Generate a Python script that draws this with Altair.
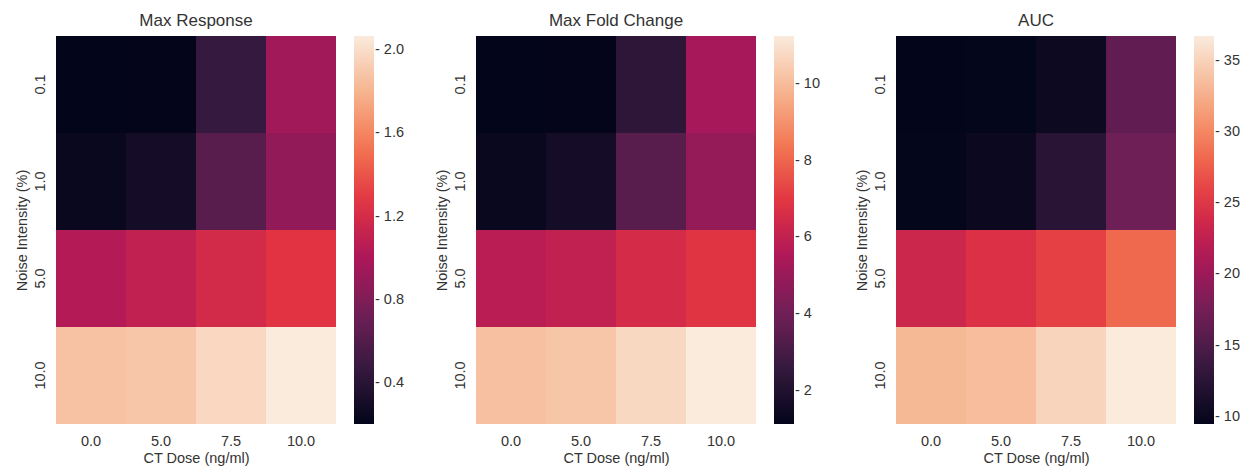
import altair as alt
import pandas as pd

# ---- data ----
doses = ["0.0", "5.0", "7.5", "10.0"]
noise = ["0.1", "1.0", "5.0", "10.0"]

max_response = [
    [0.204, 0.21, 0.47, 0.95],
    [0.24, 0.30, 0.63, 0.89],
    [1.04, 1.10, 1.19, 1.27],
    [1.87, 1.89, 1.97, 2.067],
]
max_fold = [
    [1.13, 1.15, 2.35, 5.3],
    [1.33, 1.65, 3.46, 4.9],
    [5.8, 6.0, 6.55, 6.95],
    [10.15, 10.25, 10.75, 11.26],
]
auc = [
    [9.49, 9.6, 10.2, 16.3],
    [9.6, 10.1, 12.5, 17.1],
    [23.4, 24.6, 25.9, 28.2],
    [33.2, 33.5, 35.1, 36.75],
]

ticks_mr = [0.4, 0.8, 1.2, 1.6, 2.0]
ticks_fc = [2, 4, 6, 8, 10]
ticks_auc = [10, 15, 20, 25, 30, 35]

# seaborn "rocket" colormap stops
ROCKET = ["#03051a", "#35193e", "#701f57", "#ad1759", "#e13342",
          "#f37651", "#f6b48f", "#faebdd"]

TEXT = "#333333"
FONT = "Liberation Sans"


def panel(title, field, values, ticks, fmt):
    rows = []
    for i, n in enumerate(noise):
        for j, d in enumerate(doses):
            rows.append({"noise": n, "dose": d, field: values[i][j]})
    df = pd.DataFrame(rows)
    flat = [v for r in values for v in r]
    lo, hi = min(flat), max(flat)
    k = len(ROCKET) - 1
    dom = [lo + s * (hi - lo) / k for s in range(k + 1)]
    return (
        alt.Chart(df, title=alt.Title(title, fontSize=17, font=FONT, color=TEXT,
                                      fontWeight="normal", offset=6))
        .mark_rect(strokeWidth=0)
        .encode(
            x=alt.X("dose:O", sort=doses, title="CT Dose (ng/ml)",
                    scale=alt.Scale(paddingInner=0, paddingOuter=0),
                    axis=alt.Axis(labelAngle=0, ticks=False, domain=False,
                                  labelPadding=10, titlePadding=4)),
            y=alt.Y("noise:O", sort=noise, title="Noise Intensity (%)",
                    scale=alt.Scale(paddingInner=0, paddingOuter=0),
                    axis=alt.Axis(labelAngle=270, ticks=False, domain=False,
                                  labelPadding=9, titlePadding=3)),
            color=alt.Color(
                f"{field}:Q",
                scale=alt.Scale(domain=dom, range=ROCKET, interpolate="rgb"),
                legend=alt.Legend(
                    title=None, values=ticks, format=fmt,
                    labelExpr="'- ' + datum.label",
                    gradientLength=388, gradientThickness=20,
                    gradientStrokeWidth=0, labelOverlap=False,
                    labelOffset=1, offset=18, direction="vertical",
                ),
            ),
        )
        .properties(width=280, height=388)
    )


chart = (
    alt.hconcat(
        panel("Max Response", "mr", max_response, ticks_mr, ".1f"),
        panel("Max Fold Change", "fc", max_fold, ticks_fc, "d"),
        panel("AUC", "auc", auc, ticks_auc, "d"),
        spacing=140,
        bounds="flush",
    )
    .resolve_scale(color="independent")
    .resolve_legend(color="independent")
    .properties(padding={"left": 14, "top": 12, "right": 5, "bottom": 5})
    .configure_view(strokeWidth=0)
    .configure_axis(labelFont=FONT, titleFont=FONT, labelFontSize=14.5,
                    titleFontSize=14.5, labelColor=TEXT, titleColor=TEXT,
                    titleFontWeight="normal")
    .configure_legend(labelFont=FONT, labelFontSize=14.5, labelColor=TEXT)
)

chart.save("out.html", embed_options={"renderer": "svg", "actions": False})
